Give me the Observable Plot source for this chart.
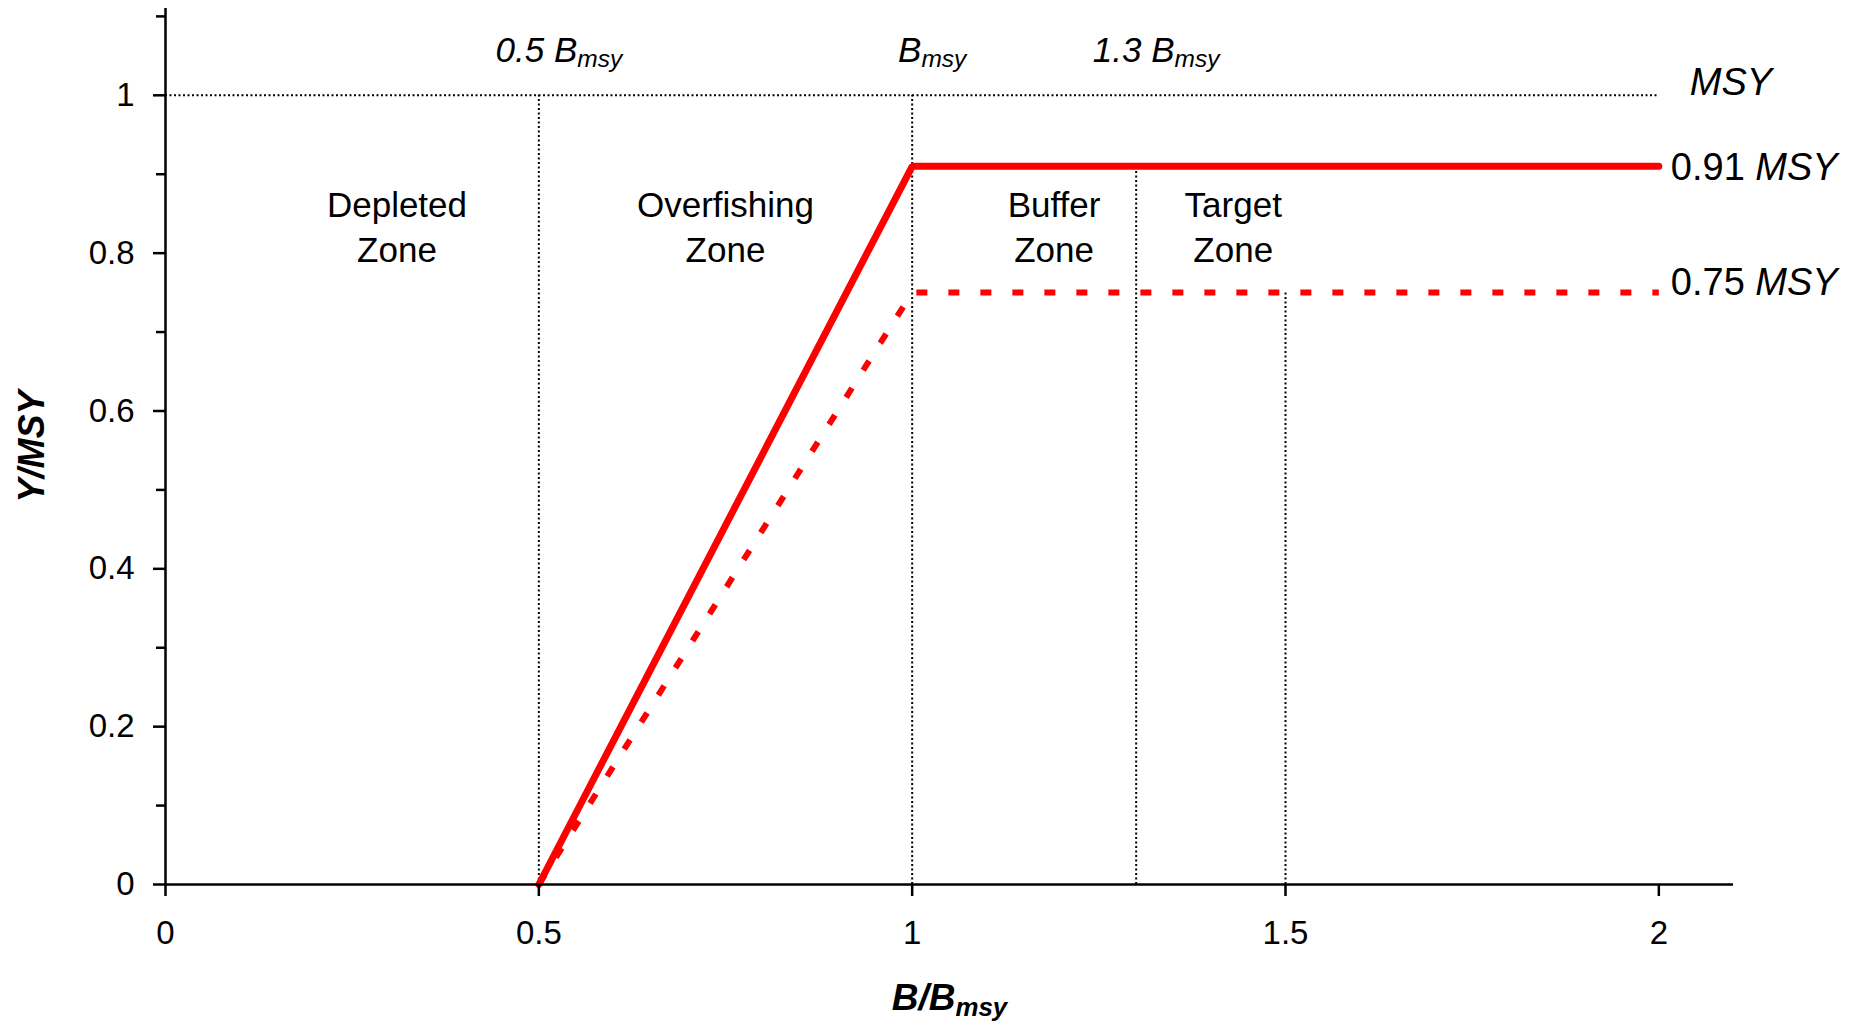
<!DOCTYPE html>
<html><head><meta charset="utf-8">
<script src="https://cdn.jsdelivr.net/npm/d3@7"></script>
<script src="https://cdn.jsdelivr.net/npm/@observablehq/plot@0.6"></script>
<style>
html,body{margin:0;padding:0;background:#fff;}
#chart svg{display:block;}
#chart text{white-space:pre;}
</style></head><body><div id="chart"></div>
<script>
// ---- data ----
const biomass = [0.5, 1, 2];               // B/Bmsy breakpoints of the control rule
const yieldSolid = [0, 0.91, 0.91];        // Y/MSY, solid red line
const yieldDashed = [0, 0.75, 0.75];       // Y/MSY, dashed red line
const xTicks = [0, 0.5, 1, 1.5, 2];
const yTicksMajor = [0, 0.2, 0.4, 0.6, 0.8, 1];
const yTicksMinor = [0.1, 0.3, 0.5, 0.7, 0.9, 1.1];
const refBiomass = [0.5, 1, 1.3, 1.5];     // dotted vertical reference lines
const refTop = [1, 1, 0.91, 0.75];         // their upper ends (Y/MSY)
const msyLevel = [1];                      // dotted MSY line
const refLabelB = [0.5, 1, 1.3];
const refLabels = ["0.5 B_msy", "B_msy", "1.3 B_msy"];
const zoneNames = ["Depleted\nZone", "Overfishing\nZone", "Buffer\nZone", "Target\nZone"];
const zoneB = [0.31, 0.75, 1.19, 1.43];
const zoneLevel = 0.835;
const levelValues = [1, 0.91, 0.75];
const levelLabels = ["*MSY*", "0.91 *MSY*", "0.75 *MSY*"];
const xTitle = "B/B_msy";
const yTitle = "Y/MSY";

// ---- tables for the marks ----
const solidPts = biomass.map((b, i) => ({b, y: yieldSolid[i]}));
const dashedPts = biomass.map((b, i) => ({b, y: yieldDashed[i]}));
const refs = refBiomass.map((b, i) => ({b, top: refTop[i]}));
const refText = refLabels.map((t, i) => ({t, b: refLabelB[i], y: msyLevel[0]}));
const zones = zoneNames.map((t, i) => ({t, b: zoneB[i], y: zoneLevel}));
const levels = levelLabels.map((t, i) => ({t, y: levelValues[i], b: 2}));

const FONT = "'Liberation Sans', Arial, sans-serif";
const dotted = {stroke: "#000", strokeWidth: 2, strokeDasharray: "2,2.5"};
const fmt = d => String(d);

const plot = Plot.plot({
  width: 1856, height: 1022,
  marginLeft: 165, marginRight: 123, marginTop: 8, marginBottom: 138,
  x: {domain: [0, 2.1]},
  y: {domain: [0, 1.11]},
  style: {fontFamily: FONT, fontSize: "33px", color: "#000", background: "#fff", overflow: "visible"},
  marks: [
    Plot.ruleY(msyLevel, {x1: 0, x2: 2, ...dotted}),
    Plot.ruleX(refs, {x: "b", y1: 0, y2: "top", ...dotted}),
    Plot.line(dashedPts, {x: "b", y: "y", stroke: "#ff0000", strokeWidth: 6, strokeDasharray: "11,21", strokeLinecap: "butt", strokeLinejoin: "miter"}),
    Plot.line(solidPts, {x: "b", y: "y", stroke: "#ff0000", strokeWidth: 7, strokeLinecap: "round", strokeLinejoin: "miter"}),
    Plot.ruleX([0], {stroke: "#000", strokeWidth: 2.5}),
    Plot.ruleY([0], {stroke: "#000", strokeWidth: 2.5}),
    Plot.axisY({ticks: yTicksMajor, tickFormat: fmt, tickSize: 12, tickPadding: 19, strokeWidth: 2.5, strokeOpacity: 1, fontSize: 33, label: null}),
    Plot.axisY({ticks: yTicksMinor, tickSize: 9, strokeWidth: 2.5, strokeOpacity: 1, tickFormat: () => "", label: null}),
    Plot.axisX({ticks: xTicks, tickFormat: fmt, tickSize: 12, tickPadding: 24, strokeWidth: 2.5, strokeOpacity: 1, fontSize: 33, label: null}),
    Plot.text(refText, {x: "b", y: "y", text: "t", dx: 20, dy: -45, fontSize: 35, fontStyle: "italic", textAnchor: "middle", lineAnchor: "middle"}),
    Plot.text(zones, {x: "b", y: "y", text: "t", fontSize: 35, lineHeight: 1.28, textAnchor: "middle", lineAnchor: "middle"}),
    Plot.text(levels.slice(0, 1), {x: "b", y: "y", text: "t", dx: 31, dy: -12, fontSize: 38, textAnchor: "start", lineAnchor: "middle"}),
    Plot.text(levels.slice(1, 2), {x: "b", y: "y", text: "t", dx: 12, dy: 1, fontSize: 38, textAnchor: "start", lineAnchor: "middle"}),
    Plot.text(levels.slice(2, 3), {x: "b", y: "y", text: "t", dx: 12, dy: -10, fontSize: 38, textAnchor: "start", lineAnchor: "middle"}),
    Plot.text([xTitle], {frameAnchor: "bottom", dy: 114, fontSize: 37, fontWeight: "bold", fontStyle: "italic", textAnchor: "middle", lineAnchor: "middle"}),
    Plot.text([yTitle], {frameAnchor: "left", dx: -133, rotate: -90, fontSize: 36, fontWeight: "bold", fontStyle: "italic", textAnchor: "middle", lineAnchor: "middle"})
  ]
});

// small markup: "*...*" = italic run, "_..." = subscript tail
d3.select(plot).selectAll("text").each(function () {
  if (this.querySelector("tspan")) return;
  const t = this.textContent;
  if (!/[_*]/.test(t)) return;
  const sel = d3.select(this);
  sel.text(null);
  const [main, sub] = t.split("_");
  main.split("*").forEach((seg, k) => {
    if (!seg) return;
    const ts = sel.append("tspan").text(seg);
    if (k % 2 === 1) ts.attr("font-style", "italic");
  });
  if (sub !== undefined) sel.append("tspan").attr("font-size", "0.7em").attr("dy", "0.22em").text(sub);
});

document.getElementById("chart").appendChild(plot);
</script></body></html>
